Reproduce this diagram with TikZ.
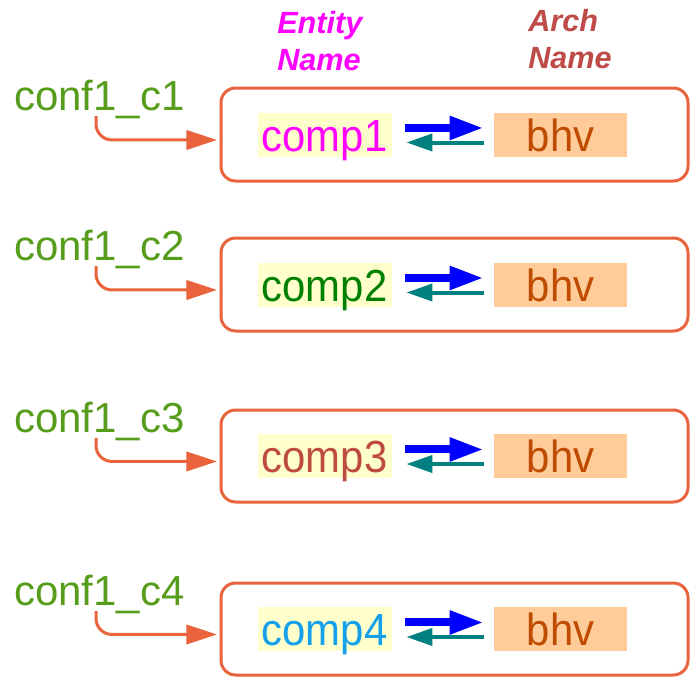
\documentclass[tikz,border=0pt]{standalone}
\usepackage{fontspec}
\setmainfont{Liberation Sans}
\newfontfamily\condfont[FakeStretch=0.93]{Liberation Sans}
\usetikzlibrary{arrows.meta,calc}
\definecolor{borderc}{RGB}{233,100,60}
\definecolor{confgreen}{RGB}{87,157,28}
\definecolor{entmag}{RGB}{255,0,255}
\definecolor{comptwo}{RGB}{0,128,0}
\definecolor{compthree}{RGB}{190,75,65}
\definecolor{compfour}{RGB}{20,160,235}
\definecolor{yellowbg}{RGB}{255,255,204}
\definecolor{peach}{RGB}{255,204,153}
\definecolor{bhvtext}{RGB}{190,75,0}
\definecolor{archc}{RGB}{190,75,72}
\definecolor{tealc}{RGB}{0,128,128}
\begin{document}
\begin{tikzpicture}[x=0.75pt,y=-0.75pt,
  outerbox/.style={draw=borderc, line width=2.25pt, rounded corners=11pt, minimum width=350.25pt, inner sep=0pt, outer sep=0pt},
  entbox/.style={fill=yellowbg, inner sep=0pt, minimum width=100.5pt, text height=29pt, text depth=4pt, font=\condfont\fontsize{33.75}{40}\selectfont},
  archbox/.style={fill=peach, inner sep=0pt, minimum width=99.75pt, text height=29pt, text depth=4pt, text=bhvtext, font=\condfont\fontsize{33.75}{40}\selectfont},
  conflabel/.style={anchor=base west, inner sep=0pt, text=confgreen, font=\fontsize{31.5}{36}\selectfont},
  confarrow/.style={draw=borderc, line width=2.25pt, rounded corners=12pt, -{Triangle[length=23pt,width=14.5pt]}},
  bluearrow/.style={draw=blue, line width=6pt, -{Triangle[length=25.5pt,width=16.5pt]}},
  tealarrow/.style={draw=tealc, line width=3pt, -{Triangle[length=19.5pt,width=12.75pt]}},
  hdr/.style={anchor=base west, inner sep=0pt, align=left, font=\bfseries\itshape\fontsize{23}{27.75}\selectfont}
]
\useasboundingbox (0,0) rectangle (690,676);
\node[hdr, text=entmag] (enthdr) at (277,70) {Entity\\Name};
\node[hdr, text=archc] (archhdr) at (528,68) {Arch\\Name};
\foreach \i/\yt/\yb/\col in {1/88/181/entmag, 2/238/331/comptwo, 3/410/502/compthree, 4/583/675/compfour}{
  \node[outerbox, minimum height={(\yb-\yt)*0.75pt}] (box\i) at (454.5,{(\yt+\yb)/2}) {};
  \node[entbox, text=\col] (ent\i) at (324.5,{(\yt+\yb)/2}) {comp\i};
  \node[archbox] (arch\i) at (560.5,{(\yt+\yb)/2}) {bhv};
  \node[conflabel] (conf\i) at (14,{\yt+22}) {conf1\_c\i};
  \draw[bluearrow] ([xshift=9.75pt,yshift=4.9pt]ent\i.east) -- ([xshift=-7.5pt,yshift=4.9pt]arch\i.west);
  \draw[tealarrow] ([xshift=-7.5pt,yshift=-6pt]arch\i.west) -- ([xshift=11pt,yshift=-6pt]ent\i.east);
  \draw[confarrow] ([xshift=61.5pt,yshift=-4.5pt]conf\i.base west) |- ([xshift=-3pt,yshift=-4.1pt]box\i.west);
}
\end{tikzpicture}
\end{document}
